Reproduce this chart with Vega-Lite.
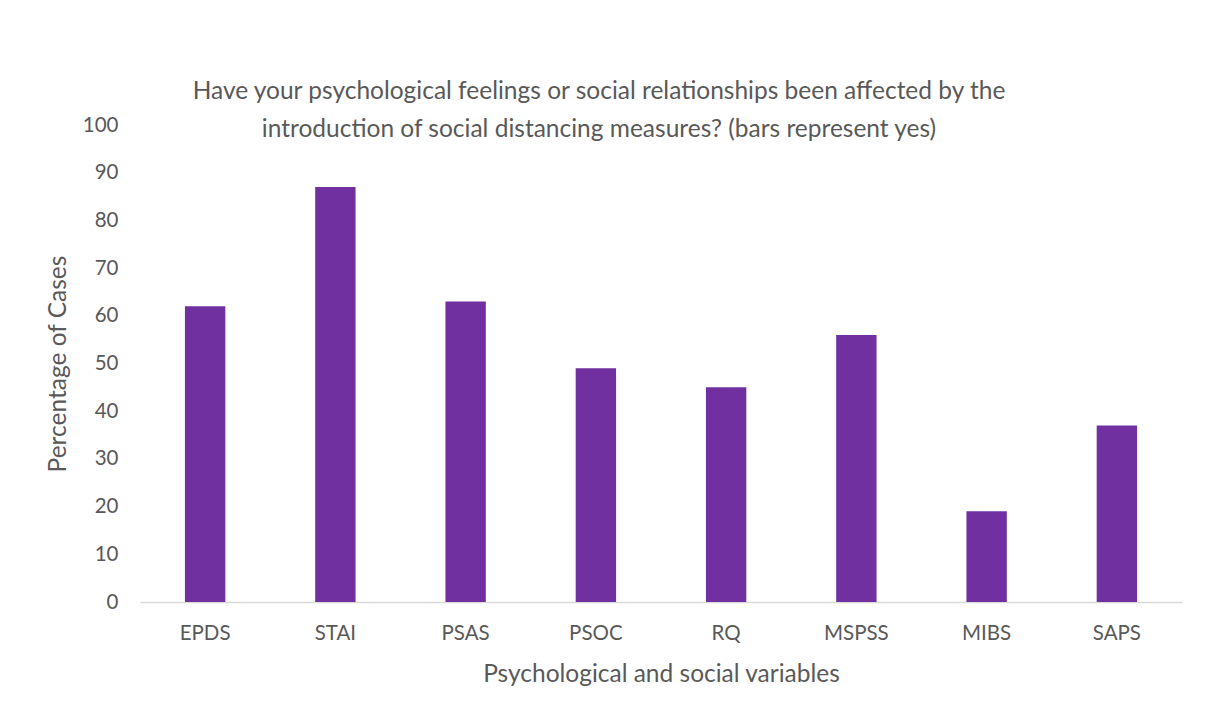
{
  "$schema": "https://vega.github.io/schema/vega-lite/v6.json",
  "autosize": "none",
  "width": 1042,
  "height": 477,
  "padding": {"left": 140, "top": 125, "right": 28, "bottom": 115},
  "background": "white",
  "title": {
    "text": ["Have your psychological feelings or social relationships been affected by the", "introduction of social distancing measures? (bars represent yes)"],
    "anchor": "middle",
    "frame": "group",
    "orient": "top",
    "baseline": "top",
    "offset": 0,
    "dy": 27,
    "dx": -62,
    "font": "Lato",
    "fontSize": 24.5,
    "fontWeight": "normal",
    "lineHeight": 38,
    "color": "#595959"
  },
  "data": {
    "values": [
      {"variable": "EPDS", "percent": 62},
      {"variable": "STAI", "percent": 87},
      {"variable": "PSAS", "percent": 63},
      {"variable": "PSOC", "percent": 49},
      {"variable": "RQ", "percent": 45},
      {"variable": "MSPSS", "percent": 56},
      {"variable": "MIBS", "percent": 19},
      {"variable": "SAPS", "percent": 37}
    ]
  },
  "mark": {"type": "bar", "color": "#7030A0"},
  "encoding": {
    "x": {
      "field": "variable",
      "type": "nominal",
      "sort": null,
      "scale": {"paddingInner": 0.69, "paddingOuter": 0.345},
      "axis": {
        "title": "Psychological and social variables",
        "labelAngle": 0,
        "ticks": false,
        "domainColor": "#d9d9d9",
        "domainWidth": 1.5,
        "labelPadding": 21,
        "titlePadding": 19
      }
    },
    "y": {
      "field": "percent",
      "type": "quantitative",
      "scale": {"domain": [0, 100], "nice": false},
      "axis": {
        "title": "Percentage of Cases",
        "values": [0, 10, 20, 30, 40, 50, 60, 70, 80, 90, 100],
        "grid": false,
        "domain": false,
        "ticks": false,
        "labelPadding": 22,
        "titlePadding": 12
      }
    }
  },
  "config": {
    "view": {"stroke": null},
    "axis": {
      "labelFont": "Lato",
      "titleFont": "Lato",
      "labelFontSize": 20.5,
      "titleFontSize": 24.5,
      "titleFontWeight": "normal",
      "labelColor": "#595959",
      "titleColor": "#595959"
    }
  }
}
